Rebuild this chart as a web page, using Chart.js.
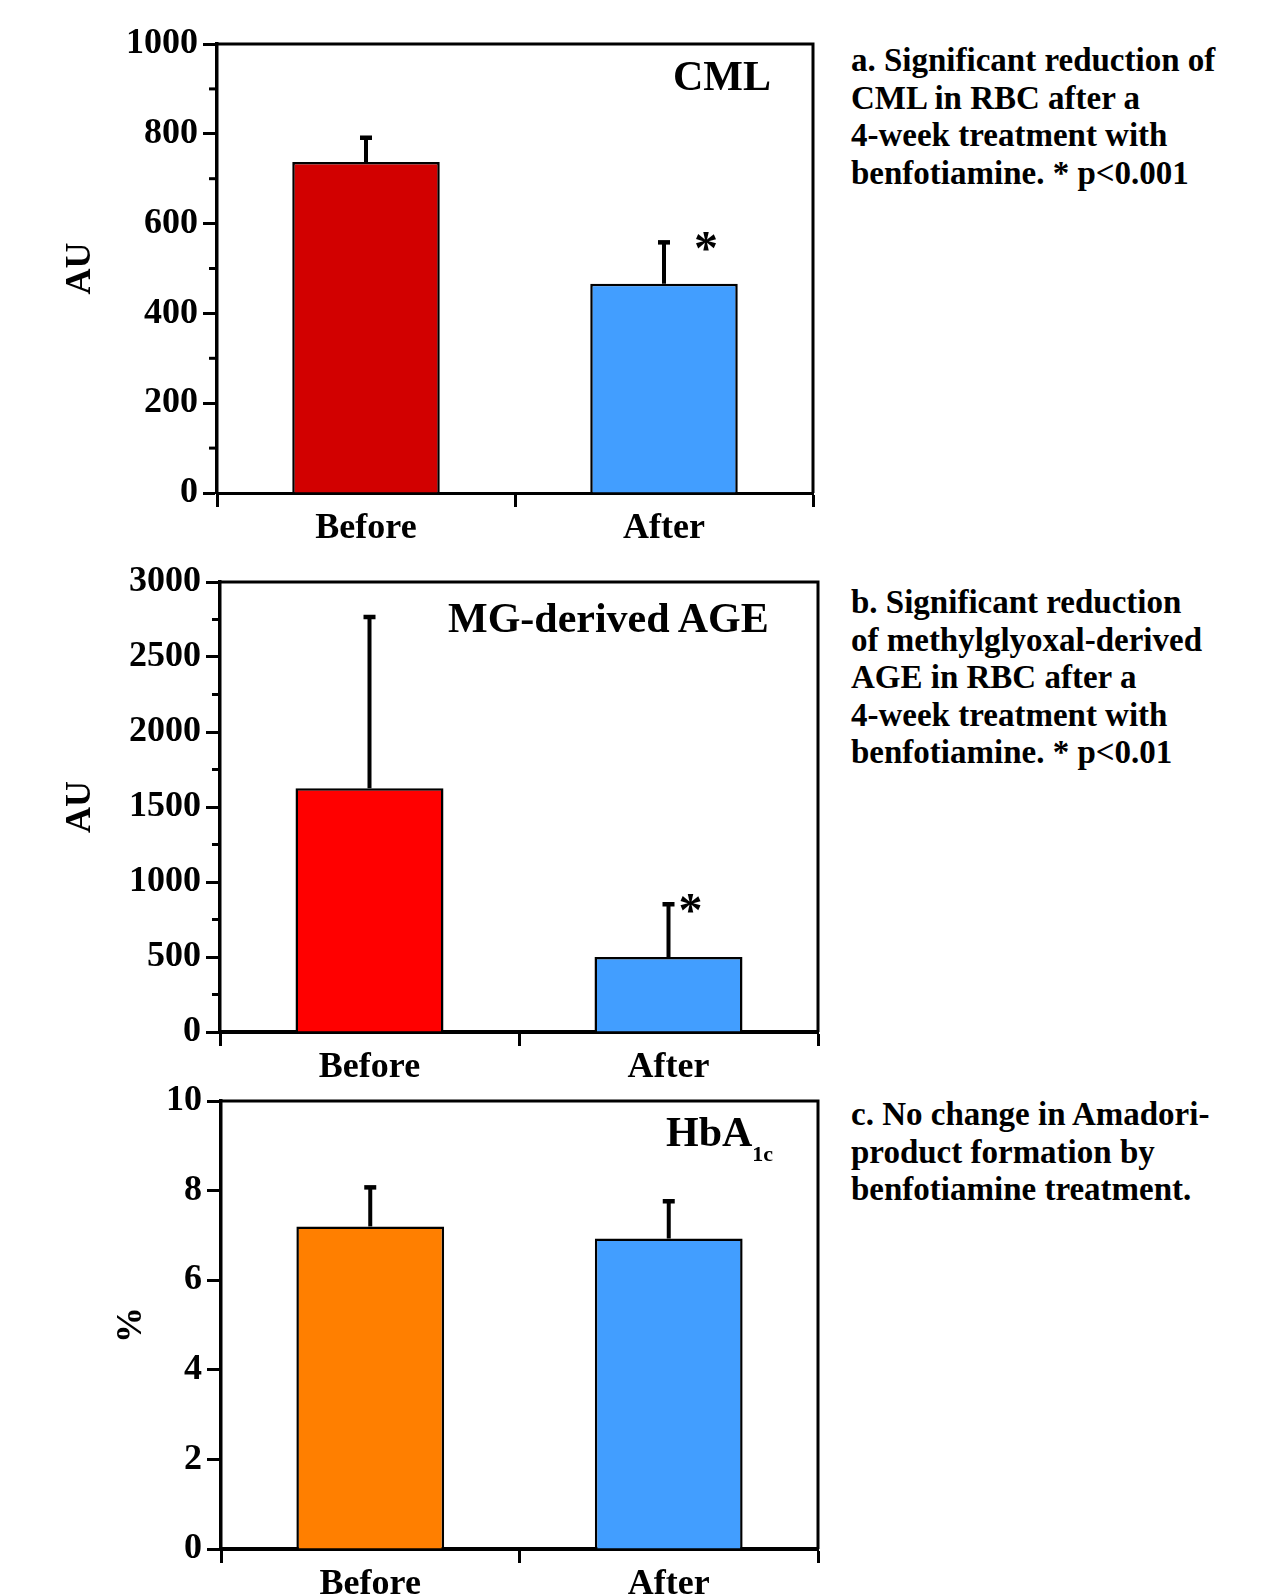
<!DOCTYPE html>
<html>
<head>
<meta charset="utf-8">
<script src="https://cdn.jsdelivr.net/npm/chart.js@4.4.1/dist/chart.umd.min.js"></script>
<style>
  html, body { margin: 0; padding: 0; background: #fff; width: 1280px; height: 1594px; overflow: hidden; }
  body { position: relative; font-family: "Liberation Serif", "Times New Roman", serif; font-weight: bold; color: #000; }
  canvas { position: absolute; left: 0; }
  .title { position: absolute; white-space: nowrap; line-height: 1; font-size: 42px; }
  .caption { position: absolute; left: 851px; font-size: 33px; line-height: 37.6px; white-space: nowrap; }
</style>
</head>
<body>
<canvas id="chartA" width="840" height="560" style="top:0px"></canvas>
<canvas id="chartB" width="840" height="560" style="top:540px"></canvas>
<canvas id="chartC" width="840" height="534" style="top:1060px"></canvas>

<div class="title" style="left:673px; top:55px;">CML</div>
<div class="title" style="left:448px; top:597px;">MG-derived AGE</div>
<div class="title" style="left:666px; top:1111px;">HbA<span style="font-size:22px; vertical-align:-15px;">1c</span></div>

<div class="caption" style="top:42px;">a. Significant reduction of<br>CML in RBC after a<br>4-week treatment with<br>benfotiamine. * p&lt;0.001</div>
<div class="caption" style="top:584px;">b. Significant reduction<br>of methylglyoxal-derived<br>AGE in RBC after a<br>4-week treatment with<br>benfotiamine. * p&lt;0.01</div>
<div class="caption" style="top:1096px;">c. No change in Amadori-<br>product formation by<br>benfotiamine treatment.</div>

<script>
// ---- Data ----
const categories = ['Before', 'After'];

const cmlValues = [737, 466];
const cmlErrors = [57, 95];
const cmlMarks  = ['', '*'];
const cmlTicks  = [0, 200, 400, 600, 800, 1000];

const mgValues = [1625, 500];
const mgErrors = [1150, 360];
const mgMarks  = ['', '*'];
const mgTicks  = [0, 500, 1000, 1500, 2000, 2500, 3000];

const hbValues = [7.2, 6.93];
const hbErrors = [0.9, 0.86];
const hbMarks  = ['', ''];
const hbTicks  = [0, 2, 4, 6, 8, 10];

// ---- Styles ----
const FONT = '"Liberation Serif", "Times New Roman", serif';
const BLUE = '#429EFF';

const framePlugin = {
  id: 'frame',
  afterDraw(chart) {
    const { ctx, chartArea: a } = chart;
    const o = chart.options.plugins.frame || {};
    ctx.save();
    ctx.strokeStyle = '#000';
    ctx.lineWidth = 3;
    ctx.beginPath();
    ctx.moveTo(a.left, a.top);
    ctx.lineTo(a.right, a.top);
    ctx.lineTo(a.right, a.bottom);
    ctx.stroke();
    if (o.minor) {
      const y = chart.scales.y;
      const ticks = y.ticks.map(t => t.value);
      for (let i = 0; i < ticks.length - 1; i++) {
        const v = (ticks[i] + ticks[i + 1]) / 2;
        const py = y.getPixelForValue(v);
        ctx.beginPath();
        ctx.moveTo(a.left - 8, py);
        ctx.lineTo(a.left, py);
        ctx.stroke();
      }
    }
    ctx.restore();
  }
};

const errorBarPlugin = {
  id: 'errbars',
  afterDatasetsDraw(chart) {
    const o = chart.options.plugins.errbars;
    const { ctx } = chart;
    const y = chart.scales.y;
    const meta = chart.getDatasetMeta(0);
    const vals = chart.data.datasets[0].data;
    ctx.save();
    meta.data.forEach((bar, i) => {
      const top = y.getPixelForValue(vals[i] + o.errors[i]);
      ctx.strokeStyle = '#000';
      ctx.lineWidth = 4;
      ctx.beginPath();
      ctx.moveTo(bar.x, bar.y);
      ctx.lineTo(bar.x, top);
      ctx.stroke();
      ctx.fillStyle = '#000';
      ctx.fillRect(bar.x - 6, top - 1, 12, 4.5);
      if (o.marks[i]) {
        ctx.font = 'bold 48px ' + FONT;
        ctx.textAlign = 'center';
        ctx.textBaseline = 'alphabetic';
        ctx.fillText(o.marks[i], bar.x + o.markOffset, top + 23);
      }
    });
    ctx.restore();
  }
};

function makeChart(id, cfg) {
  return new Chart(document.getElementById(id), {
    type: 'bar',
    data: {
      labels: categories,
      datasets: [{
        data: cfg.values,
        backgroundColor: cfg.colors,
        borderColor: '#000',
        borderWidth: 2.5,
        borderSkipped: 'bottom',
        barPercentage: 0.495,
        categoryPercentage: 1
      }]
    },
    options: {
      responsive: false,
      animation: false,
      devicePixelRatio: 1,
      layout: { padding: { left: 0, right: cfg.padRight, top: cfg.padTop, bottom: 0 } },
      plugins: {
        legend: { display: false },
        tooltip: { enabled: false },
        frame: { minor: cfg.minor },
        errbars: { errors: cfg.errors, marks: cfg.marks, markOffset: cfg.markOffset }
      },
      scales: {
        x: {
          grid: { drawOnChartArea: false, drawTicks: true, tickLength: 14, tickWidth: 3, color: '#000', offset: true },
          border: { color: '#000', width: cfg.xBorder },
          ticks: { color: '#000', font: { family: FONT, size: 36, weight: 'bold' }, padding: 0, maxRotation: 0 },
          afterFit: s => { s.height = cfg.xHeight; }
        },
        y: {
          min: cfg.tickValues[0],
          max: cfg.tickValues[cfg.tickValues.length - 1],
          afterBuildTicks: s => { s.ticks = cfg.tickValues.map(v => ({ value: v })); },
          grid: { drawOnChartArea: false, drawTicks: true, tickLength: 14, tickWidth: 3, color: '#000' },
          border: { color: '#000', width: 3.5 },
          ticks: { color: '#000', font: { family: FONT, size: 36, weight: 'bold' }, padding: 5, callback: v => String(v) },
          title: { display: true, text: cfg.yTitle, color: '#000', font: { family: FONT, size: 36, weight: 'bold' }, padding: { top: cfg.titlePad, bottom: 0 } },
          afterFit: s => { s.width = cfg.left; }
        }
      }
    },
    plugins: [framePlugin, errorBarPlugin]
  });
}

makeChart('chartA', {
  values: cmlValues, errors: cmlErrors, marks: cmlMarks, tickValues: cmlTicks,
  colors: ['#D20000', BLUE], yTitle: 'AU', minor: true,
  left: 217, padRight: 27, padTop: 44, xHeight: 67, xBorder: 3, titlePad: 59, markOffset: 42
});
makeChart('chartB', {
  values: mgValues, errors: mgErrors, marks: mgMarks, tickValues: mgTicks,
  colors: ['#FF0000', BLUE], yTitle: 'AU', minor: true,
  left: 220, padRight: 22, padTop: 42, xHeight: 68, xBorder: 4, titlePad: 59, markOffset: 22
});
makeChart('chartC', {
  values: hbValues, errors: hbErrors, marks: hbMarks, tickValues: hbTicks,
  colors: ['#FF7F00', BLUE], yTitle: '%', minor: false,
  left: 221, padRight: 22, padTop: 41, xHeight: 45, xBorder: 4, titlePad: 110, markOffset: 0
});
</script>
</body>
</html>
